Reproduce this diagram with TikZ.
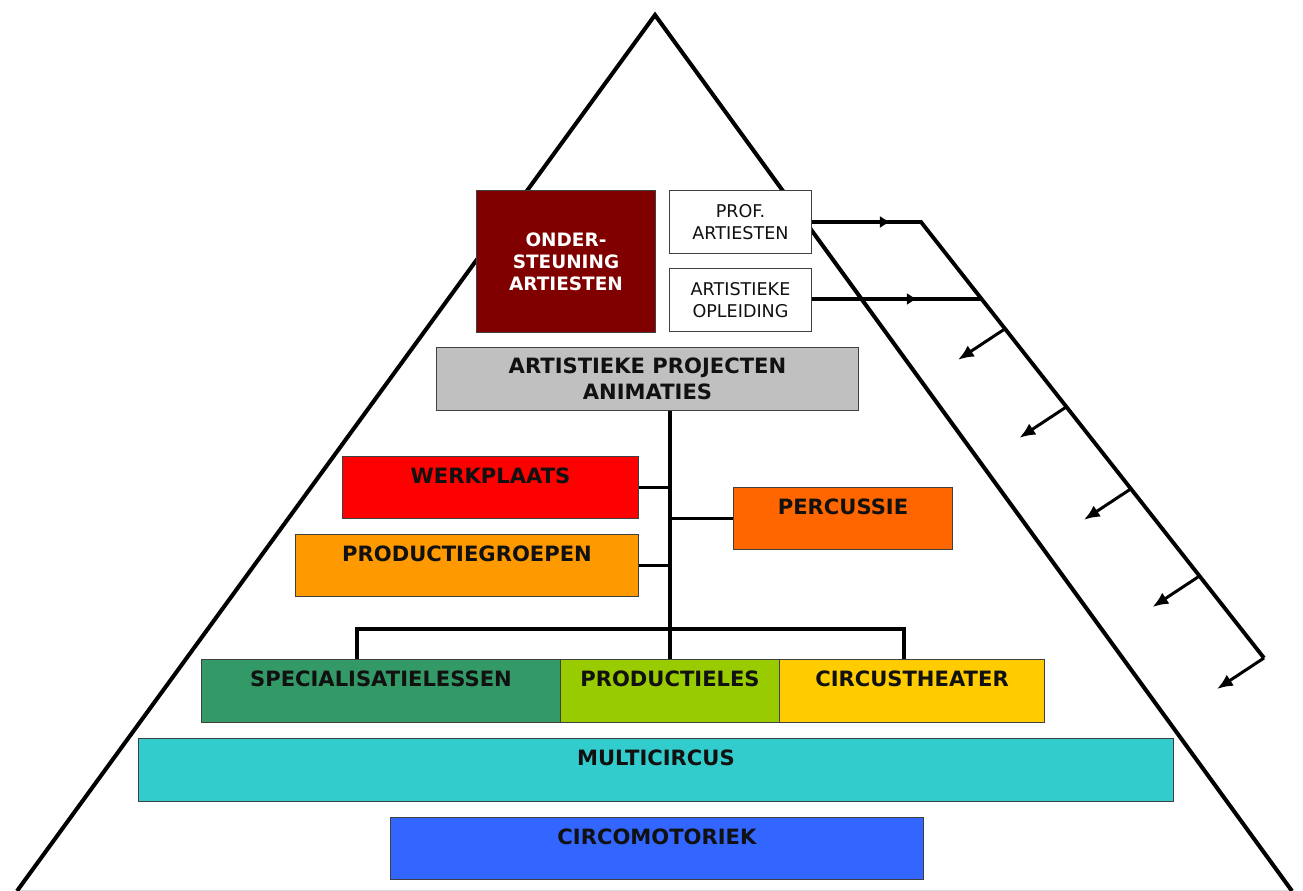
\documentclass[tikz,border=0pt]{standalone}
\usepackage{fontspec}
\setmainfont{DejaVu Sans}
\usetikzlibrary{arrows.meta,calc}

\definecolor{donkerrood}{HTML}{800000}
\definecolor{grijs}{HTML}{C0C0C0}
\definecolor{rood}{HTML}{FF0000}
\definecolor{oranje}{HTML}{FF9900}
\definecolor{donkeroranje}{HTML}{FF6600}
\definecolor{groen}{HTML}{339966}
\definecolor{limoen}{HTML}{99CC00}
\definecolor{goud}{HTML}{FFCC00}
\definecolor{turkoois}{HTML}{33CCCC}
\definecolor{blauw}{HTML}{3366FF}
\definecolor{tekst}{HTML}{111111}

\tikzset{
  blok/.style={draw=black!75, line width=0.6pt, inner sep=0pt, anchor=north west,
    text=tekst, font=\bfseries\fontsize{12}{14.7}\selectfont, align=center},
  topblok/.style={blok, align=none, text height=0.54cm, text depth=#1},
  witblok/.style={blok, fill=white, font=\fontsize{10}{12.5}\selectfont},
  zijde/.style={line width=2.3pt},
  lijn/.style={line width=2.2pt},
  pijl/.style={line width=1.7pt, -{Latex[length=9pt,width=7.5pt]}},
  tussenpijl/.style={line width=2.2pt, -{Latex[length=6pt,width=7pt]}},
}

\begin{document}
\begin{tikzpicture}[x=0.02cm,y=-0.02cm]
  \useasboundingbox (0,0) rectangle (1303,891);

  % piramide
  \coordinate (top) at (655,15);
  \coordinate (links) at (17,891);
  \coordinate (rechts) at (1292,891);
  \draw[black!15, line width=1pt] (links) -- (rechts);
  \draw[zijde] (links) -- (top) -- (rechts);

  % bovenste blokken
  \node[blok, fill=donkerrood, text=white, minimum width=3.58cm, minimum height=2.84cm,
    font=\bfseries\fontsize{10.5}{12.5}\selectfont] (steun) at (476,190) {ONDER-\\STEUNING\\ARTIESTEN};
  \node[witblok, minimum width=2.84cm, minimum height=1.26cm] (prof) at (669,190) {PROF.\\ARTIESTEN};
  \node[witblok, minimum width=2.84cm, minimum height=1.26cm] (opl) at (669,268) {ARTISTIEKE\\OPLEIDING};
  \node[blok, fill=grijs, minimum width=8.44cm, minimum height=1.26cm] (proj) at (436,347) {ARTISTIEKE PROJECTEN\\ANIMATIES};

  % middelste blokken
  \node[topblok=0.70cm, fill=rood, minimum width=5.92cm] (werk) at (342,456) {WERKPLAATS};
  \node[topblok=0.70cm, fill=donkeroranje, minimum width=4.38cm] (perc) at (733,487) {PERCUSSIE};
  \node[topblok=0.70cm, fill=oranje, minimum width=6.86cm] (prodgr) at (295,534) {PRODUCTIEGROEPEN};

  % onderste rij
  \node[topblok=0.72cm, fill=groen, minimum width=7.18cm] (spec) at (201,659) {SPECIALISATIELESSEN};
  \node[topblok=0.72cm, fill=limoen, minimum width=4.38cm] (prodles) at (560,659) {PRODUCTIELES};
  \node[topblok=0.72cm, fill=goud, minimum width=5.30cm] (theater) at (779,659) {CIRCUSTHEATER};
  \node[topblok=0.72cm, fill=turkoois, minimum width=20.70cm] (multi) at (138,738) {MULTICIRCUS};
  \node[topblok=0.70cm, fill=blauw, minimum width=10.66cm] (motor) at (390,817) {CIRCOMOTORIEK};

  % boom
  \draw[lijn] (proj.south -| prodles.north) -- (prodles.north);
  \draw[lijn] (werk.east) -- (werk.east -| prodles.north);
  \draw[lijn] (prodgr.east) -- (prodgr.east -| prodles.north);
  \draw[lijn] (perc.west) -- (perc.west -| prodles.north);
  \coordinate (tl) at (357,629);
  \coordinate (tr) at (904,629);
  \draw[lijn] (spec.north -| tl) -- (tl) -- (tr) -- (theater.north -| tr);

  % doorstroming
  \coordinate (h1) at (921,222);
  \coordinate (h2) at (982,299);
  \coordinate (h5) at (1264,658);
  \draw[lijn] (prof.east |- h1) -- (h1) -- (h5);
  \draw[lijn] (opl.east |- h2) -- (h2);
  \draw[tussenpijl] (prof.east |- h1) -- ($(prof.east |- h1)!0.72!(h1)$);
  \draw[tussenpijl] (opl.east |- h2) -- ($(opl.east |- h2)!0.62!(h2)$);
  \foreach \t in {0.245,0.424,0.612,0.812,1}
    \draw[pijl] ($(h1)!\t!(h5)$) -- ++(-47,31);
\end{tikzpicture}
\end{document}
